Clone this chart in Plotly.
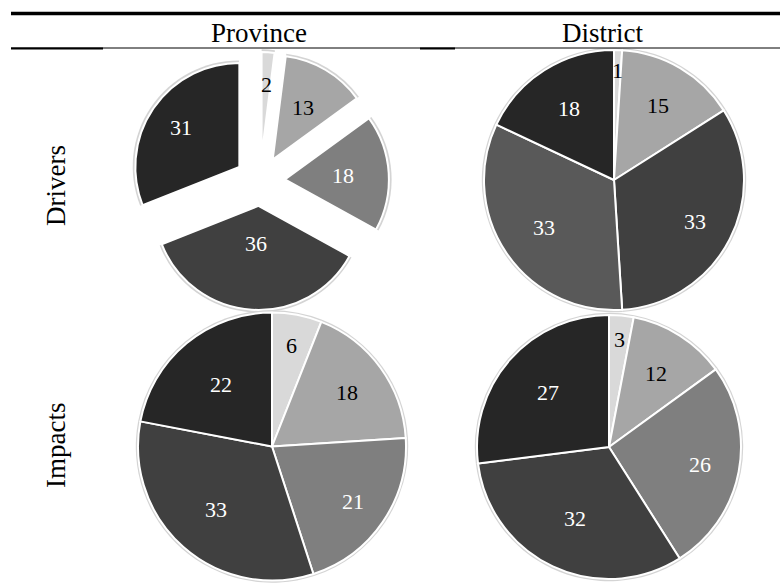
import math
import plotly.graph_objects as go

# ---------------- data ----------------
categories = ["A", "B", "C", "D", "E"]
province_drivers = [2, 13, 18, 36, 31]
district_drivers = [1, 15, 33, 33, 18]
province_impacts = [6, 18, 21, 33, 22]
district_impacts = [3, 12, 26, 32, 27]
column_labels = ["Province", "District"]
row_labels = ["Drivers", "Impacts"]

# ---------------- styles ----------------
W, H = 780, 583
FONT = "Liberation Serif, Times New Roman, serif"
colors_std = ["#d9d9d9", "#a6a6a6", "#7f7f7f", "#404040", "#262626"]
colors_dd = ["#d9d9d9", "#a6a6a6", "#404040", "#595959", "#262626"]
text_colors = ["black", "black", "white", "white", "white"]

# label distance from slice centre, as a fraction of the radius (style)
lbl_pd = [0.69, 0.58, 0.56, 0.36, 0.68]
lbl_dd = [0.84, 0.67, 0.70, 0.65, 0.65]
lbl_pi = [0.77, 0.69, 0.73, 0.63, 0.60]
lbl_di = [0.82, 0.66, 0.70, 0.60, 0.62]


def dom(cx, cy, half):
    return dict(x=[(cx - half) / W, (cx + half) / W],
                y=[1 - (cy + half) / H, 1 - (cy - half) / H])


# (values, colors, label fracs, center x, center y, radius, pull)  -- geometry in pixels
pies = [
    (province_drivers, colors_std, lbl_pd, 260, 181, 104, 0.24),
    (district_drivers, colors_dd, lbl_dd, 614, 180, 130, 0.0),
    (province_impacts, colors_std, lbl_pi, 272, 446.5, 134, 0.0),
    (district_impacts, colors_std, lbl_di, 609, 447, 132, 0.0),
]

fig = go.Figure()

for vals, cols, fracs, cx, cy, r, pull in pies:
    half = r * (1 + pull)
    # soft shadow underlay
    fig.add_trace(go.Pie(
        labels=categories, values=vals, sort=False, direction="clockwise",
        rotation=0, pull=pull, domain=dom(cx, cy, half + 2.2 * (1 + pull)),
        marker=dict(colors=["#d4d4d4"] * len(vals), line=dict(color="#d4d4d4", width=0)),
        textinfo="none", hoverinfo="skip", showlegend=False,
    ))
    fig.add_trace(go.Pie(
        labels=categories, values=vals, sort=False, direction="clockwise",
        rotation=0, pull=pull, domain=dom(cx, cy, half),
        marker=dict(colors=cols, line=dict(color="white", width=2)),
        textinfo="none", hoverinfo="skip", showlegend=False,
    ))
    # data labels placed along each slice's mid-angle (derived from the values)
    total = float(sum(vals))
    cum = 0.0
    for v, tc, frac in zip(vals, text_colors, fracs):
        mid = (cum + v / 2.0) / total * 2 * math.pi
        cum += v
        dx, dy = math.sin(mid), -math.cos(mid)
        px = cx + (pull * r + frac * r) * dx
        py = cy + (pull * r + frac * r) * dy
        fig.add_annotation(text=str(v), x=px / W, y=1 - py / H, xref="paper", yref="paper",
                           showarrow=False, xanchor="center", yanchor="middle",
                           font=dict(family=FONT, size=22, color=tc))

# column headers
for label, x in zip(column_labels, [259, 602]):
    fig.add_annotation(text=label, x=x / W, y=1 - 33 / H, xref="paper", yref="paper",
                       showarrow=False, xanchor="center", yanchor="middle",
                       font=dict(family=FONT, size=27, color="black"))
# row labels
for label, y in zip(row_labels, [185, 445]):
    fig.add_annotation(text=label, x=56 / W, y=1 - y / H, xref="paper", yref="paper",
                       showarrow=False, xanchor="center", yanchor="middle", textangle=-90,
                       font=dict(family=FONT, size=27, color="black"))

# table rules
rules = [
    (11, W, 13.5, 3.5),
    (11, W, 48, 1),
    (11, 103, 48.5, 2),
    (420, 455, 48.5, 2),
]
for x0, x1, y, w in rules:
    fig.add_shape(type="line", xref="paper", yref="paper",
                  x0=x0 / W, x1=x1 / W, y0=1 - y / H, y1=1 - y / H,
                  line=dict(color="black", width=w))

fig.update_layout(
    width=W, height=H, margin=dict(l=0, r=0, t=0, b=0),
    paper_bgcolor="white", plot_bgcolor="white",
    showlegend=False,
)

fig.write_html("out.html")
